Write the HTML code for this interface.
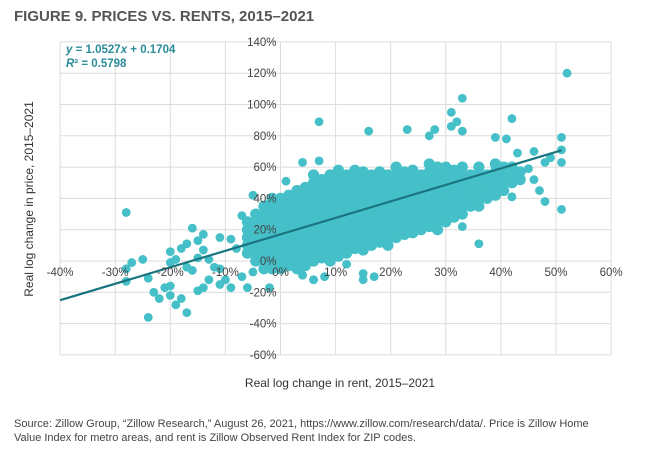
<!DOCTYPE html>
<html><head><meta charset="utf-8"><style>
body{margin:0;background:#fff;font-family:"Liberation Sans",sans-serif}
#wrap{position:relative;width:654px;height:449px;overflow:hidden}
</style></head><body>
<div id="wrap">
<svg id="chart" width="654" height="449">
<text x="14" y="21" font-size="15" font-weight="bold" fill="#555">FIGURE 9. PRICES VS. RENTS, 2015–2021</text>
<g id="grid"></g>
<g id="dots"></g>
<g id="trend"></g>
<g id="ticks"></g>
<text x="66" y="53" font-size="11.5" font-weight="bold" fill="#2a8c98"><tspan font-style="italic">y</tspan> = 1.0527<tspan font-style="italic">x</tspan> + 0.1704</text>
<text x="66" y="67" font-size="11.5" font-weight="bold" fill="#2a8c98"><tspan font-style="italic">R</tspan>² = 0.5798</text>
<text transform="translate(33,199) rotate(-90)" text-anchor="middle" font-size="12" fill="#333">Real log change in price, 2015–2021</text>
<text x="340" y="387" text-anchor="middle" font-size="12" fill="#333">Real log change in rent, 2015–2021</text>
<text x="14" y="427" font-size="11" fill="#444">Source: Zillow Group, “Zillow Research,” August 26, 2021, https://www.zillow.com/research/data/. Price is Zillow Home</text>
<text x="14" y="441" font-size="11" fill="#444">Value Index for metro areas, and rent is Zillow Observed Rent Index for ZIP codes.</text>
</svg>
</div>
<script>
const xTicks=[-40,-30,-20,-10,0,10,20,30,40,50,60];
const yTicks=[-60,-40,-20,0,20,40,60,80,100,120,140];
const slope=1.0527, intercept=17.04;
const outRent=[-28,-28,-28,-27,-25,-24,-24,-23,-22,-21,-20,-20,-20,-20,-19,-19,-18,-18,-17,-17,-17,-16,-16,-15,-15,-15,-14,-14,-14,-13,-13,-12,-11,-11,-11,-10,-9,-9,-8,-7,-7,-6,-5,-5,-2,-2,1,4,7,6,4,8,7,16,23,33,31,32,31,33,28,27,42,39,41,51,51,51,51,48,47,46,46,45,48,49,43,33,36,42,6,15,15,17,12,10,4,52];
const outPrice=[31,-5,-13,-1,1,-11,-36,-20,-24,-17,-16,-22,6,-1,1,-28,-24,8,-33,11,-4,21,-6,13,-19,2,17,-17,7,-12,1,-4,-15,15,-5,-12,-17,14,8,-10,29,-17,-7,42,-17,37,51,63,64,-12,-9,-10,89,83,84,104,95,89,86,83,84,80,91,79,78,79,71,63,33,38,45,52,70,59,63,66,69,22,11,41,-12,-8,-12,-10,-2,3,-9,120];
const blobRent=[-6,-4.5,-3,-1.5,0,1.5,3,4.5,6,7.5,9,10.5,12,13.5,15,16.5,18,19.5,21,22.5,24,25.5,27,28.5,30,31.5,33,34.5,36,37.5,39,40.5,42,43.5];
const blobPrice=[[5,10,15,20,25],[0,5,10,15,20,25,30],[-5,0,5,10,15,20,25,30,35],[-5,0,5,10,15,20,25,30,35,40],[-5,0,5,10,15,20,25,30,35,40],[-3,2,7,12,17,22,27,32,37,42],[-5,0,5,10,15,20,25,30,35,40,45],[-3,2,7,12,17,22,27,32,37,42,47],[0,5,10,15,20,25,30,35,40,45,50,55],[2,7,12,17,22,27,32,37,42,47,52],[0,5,10,15,20,25,30,35,40,45,50,55],[3,8,13,18,23,28,33,38,43,48,53,58],[5,10,15,20,25,30,35,40,45,50,55],[8,13,18,23,28,33,38,43,48,53,58],[7,12,17,22,27,32,37,42,47,52,57],[10,15,20,25,30,35,40,45,50,55],[12,17,22,27,32,37,42,47,52,57],[10,15,20,25,30,35,40,45,50,55],[15,20,25,30,35,40,45,50,55,60],[17,22,27,32,37,42,47,52,57],[18,23,28,33,38,43,48,53,58],[20,25,30,35,40,45,50,55],[22,27,32,37,42,47,52,57,62],[20,25,30,35,40,45,50,55,60],[25,30,35,40,45,50,55,60],[28,33,38,43,48,53,58],[30,35,40,45,50,55,60],[35,40,45,50,55],[35,40,45,50,55,60],[40,45,50,55],[42,47,52,57,62],[45,50,55,60],[50,55,60],[52,57]];
const X0=280.5, XS=5.51, Y0=261, YS=1.565;
function sx(v){return X0+v*XS;}
function sy(v){return Y0-v*YS;}
const NS='http://www.w3.org/2000/svg';
function mk(tag,parent,attrs){const e=document.createElementNS(NS,tag);for(const k in attrs)e.setAttribute(k,attrs[k]);parent.appendChild(e);return e;}
const grid=document.getElementById('grid'),ticks=document.getElementById('ticks'),dots=document.getElementById('dots'),trend=document.getElementById('trend');
xTicks.forEach(t=>{
 const l=mk('line',grid,{x1:sx(t),x2:sx(t),y1:sy(140),y2:sy(-60),stroke:'#dcdcdc','stroke-width':1});
 
 
 const tx=mk('text',ticks,{x:sx(t),y:sy(0)+15,'text-anchor':'middle','font-size':11.5,fill:'#444'});
 tx.textContent=t+'%';
 
 
});
yTicks.forEach(t=>{
 const l=mk('line',grid,{x1:sx(-40),x2:sx(60),y1:sy(t),y2:sy(t),stroke:'#dcdcdc','stroke-width':1});
 
 
 const tx=mk('text',ticks,{x:sx(0)-4,y:sy(t)+4,'text-anchor':'end','font-size':11.5,fill:'#444'});
 tx.textContent=t+'%';
 
 
});
function dot(x,y,r){
 const c=mk('circle',dots,{cx:sx(x),cy:sy(y),r:r,fill:'#45bfc8'});
 
 
}
blobRent.forEach((x,i)=>blobPrice[i].forEach(y=>dot(x,y,5.6)));
outRent.forEach((x,i)=>dot(x,outPrice[i],4.4));
const tl=mk('line',trend,{x1:sx(-40),y1:sy(-40*slope+intercept),x2:sx(51),y2:sy(51*slope+intercept),stroke:'#1a7580','stroke-width':2.2});


</script>
</body></html>
